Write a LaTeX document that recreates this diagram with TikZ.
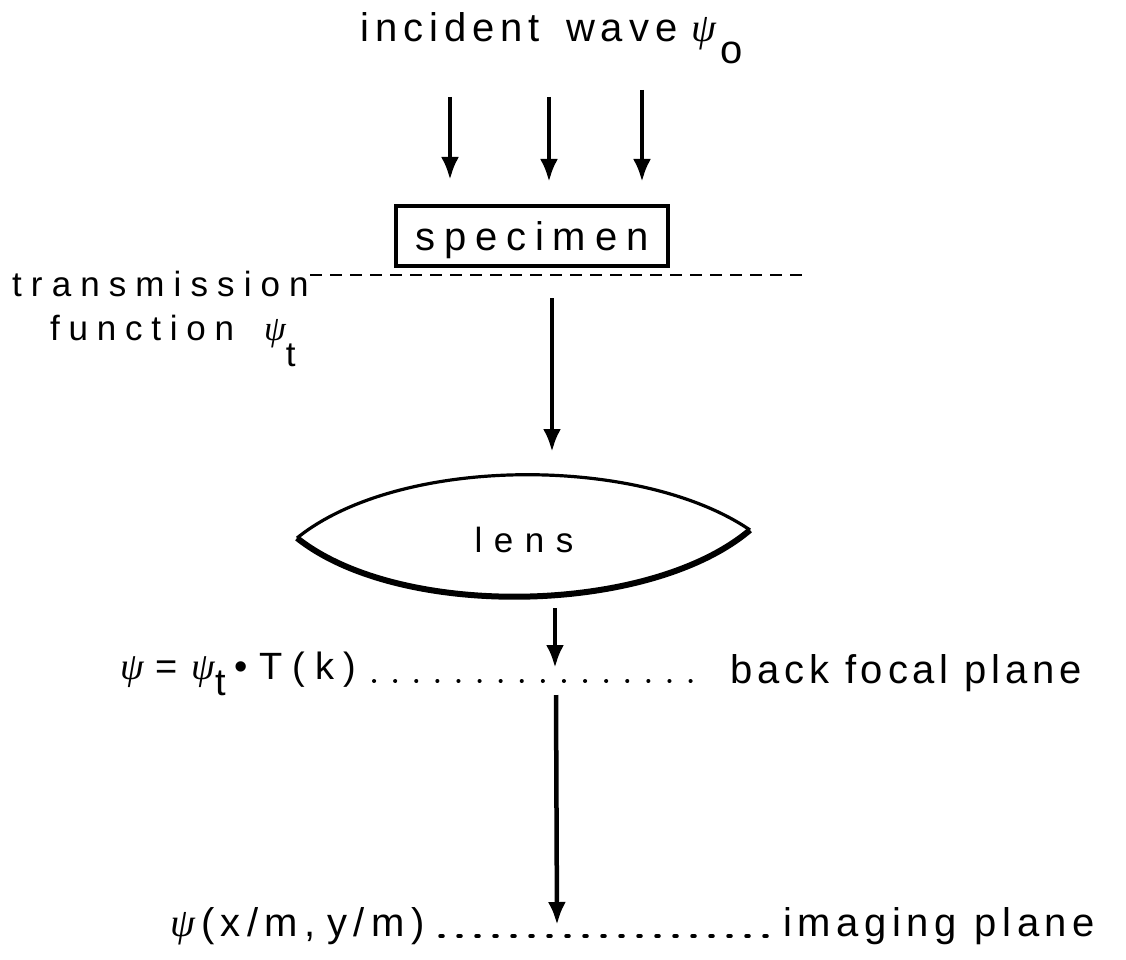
\documentclass[tikz,border=0pt]{standalone}
\usepackage{fontspec}
\setmainfont{Liberation Sans}
\newfontfamily\grk{Liberation Serif}
\usetikzlibrary{arrows.meta}
\newcommand\lsp[2]{{\addfontfeature{LetterSpace=#1}#2}}
\newcommand\psy{{\grk\itshape ψ}}
\tikzset{
  txt/.style={inner sep=0pt, anchor=base west, font=\fontsize{40}{44}\selectfont},
  ray/.style={line width=4.5pt, -{Latex[length=23pt,width=18pt]}},
  plane/.style={line width=4pt, line cap=round, dash pattern=on 0.1pt off 21pt},
}
\begin{document}
\begin{tikzpicture}[x=1pt,y=-1pt]
\useasboundingbox (0,0) rectangle (1126,960);
% incident wave
\node[txt] (inc) at (360,42)
  {\lsp{15}{incident}\hspace{26pt}\lsp{15}{wave}\hspace{14pt}\psy\hspace{4pt}\raisebox{-22pt}{o}};
\coordinate (a1s) at (450,97);  \coordinate (a1e) at (450,180);
\coordinate (a2s) at (549,97);  \coordinate (a2e) at (549,182);
\coordinate (a3s) at (642,90);  \coordinate (a3e) at (642,182);
\draw[ray] (a1s) -- (a1e);
\draw[ray] (a2s) -- (a2e);
\draw[ray] (a3s) -- (a3e);
% specimen
\node[draw, line width=4.5pt, minimum width=272pt, minimum height=60pt,
      inner sep=0pt, font=\fontsize{40}{44}\selectfont,
      text height=28pt, text depth=0pt] (spec) at (532,236) {\lsp{22}{specimen}};
% transmission plane
\coordinate (tpL) at (310,275); \coordinate (tpR) at (805,275);
\draw[line width=2pt, dash pattern=on 12pt off 8pt] (tpL) -- (tpR);
\node[txt, font=\fontsize{35}{40}\selectfont] (trans) at (12,296) {\lsp{26}{transmission}};
\node[txt, font=\fontsize{35}{40}\selectfont] (func) at (50,340)
  {\lsp{25}{function}\hspace{30pt}\psy\raisebox{-26pt}{t}};
% arrow to lens
\coordinate (b1s) at (552,298); \coordinate (b1e) at (552,452);
\draw[ray] (b1s) -- (b1e);
% lens
\coordinate (lL) at (297,538); \coordinate (lR) at (750,530);
\draw[line width=3.2pt] (lL) .. controls (400,455) and (640,455) .. (lR);
\draw[line width=6pt] (lL) .. controls (400,620) and (650,615) .. (lR);
\node[txt, anchor=base, font=\fontsize{35}{40}\selectfont] (lens) at (524,552) {\lsp{33}{lens}};
% arrow to back focal plane
\coordinate (c1s) at (555,608); \coordinate (c1e) at (555,668);
\draw[ray] (c1s) -- (c1e);
% back focal plane
\node[txt, font=\fontsize{38}{42}\selectfont] (psi1) at (120,679)
  {\psy\hspace{12pt}=\hspace{14pt}\psy\raisebox{-16pt}{t}\hspace{8pt}•\hspace{12pt}\lsp{26}{T(k)}};
\coordinate (bfL) at (374,681); \coordinate (bfR) at (707,681);
\draw[plane] (bfL) -- (bfR);
\node[txt] (bfp) at (730,683) {\lsp{12}{back}\hspace{16pt}\lsp{12}{focal}\hspace{16pt}\lsp{12}{plane}};
% arrow to imaging plane
\coordinate (d1s) at (556,695); \coordinate (d1e) at (557,925);
\draw[ray] (d1s) -- (d1e);
% imaging plane
\node[txt] (psi2) at (170,936) {\psy\hspace{6pt}\lsp{16}{(x/m,}\hspace{12pt}\lsp{16}{y/m)}};
\coordinate (ipL) at (440,936); \coordinate (ipR) at (767,936);
\draw[line width=3.5pt, line cap=round, dash pattern=on 3pt off 15pt] (ipL) -- (ipR);
\node[txt] (img) at (783,936) {\lsp{14}{imaging}\hspace{18pt}\lsp{14}{plane}};
\end{tikzpicture}
\end{document}
